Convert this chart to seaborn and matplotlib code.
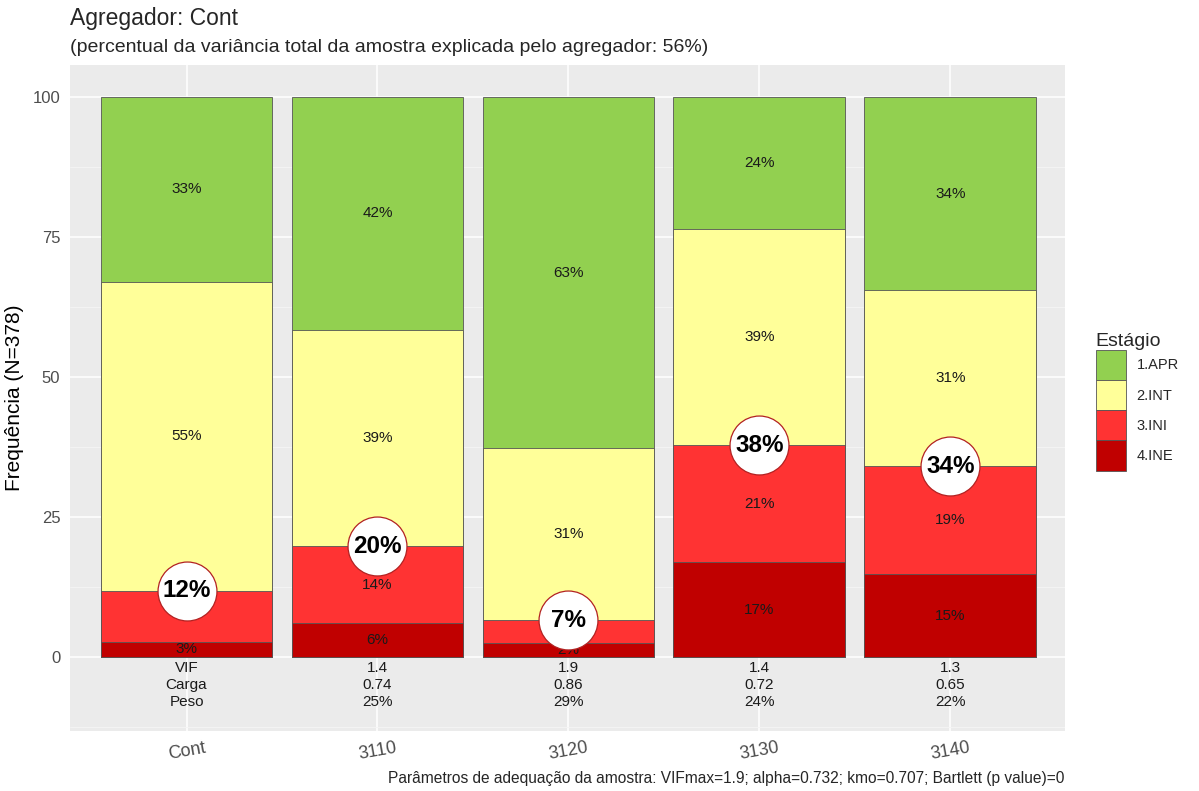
import numpy as np
import pandas as pd
import matplotlib.pyplot as plt
import seaborn as sns
from matplotlib.patches import Patch

# Data
categories = ['Cont', '3110', '3120', '3130', '3140']
stages = ['1.APR', '2.INT', '3.INI', '4.INE']
ine = [2.7, 6.1, 2.5, 16.9, 14.8]
ini = [9.1, 13.7, 4.1, 20.9, 19.3]
intr = [55.2, 38.6, 30.7, 38.6, 31.4]
apr = [33.0, 41.6, 62.7, 23.6, 34.5]
highlight = [12, 20, 7, 38, 34]
vif = ['VIF', '1.4', '1.9', '1.4', '1.3']
carga = ['Carga', '0.74', '0.86', '0.72', '0.65']
peso = ['Peso', '25%', '29%', '24%', '22%']

colors = {'1.APR': '#92D050', '2.INT': '#FFFF99', '3.INI': '#FF3333', '4.INE': '#C00000'}

df = pd.DataFrame({'cat': categories, '4.INE': ine, '3.INI': ini,
                   '2.INT': intr, '1.APR': apr})
# cumulative tops, from bottom (INE) to top (APR)
order_bottom_up = ['4.INE', '3.INI', '2.INT', '1.APR']
cum = df[order_bottom_up].cumsum(axis=1)

sns.set_theme(style='darkgrid')
plt.rcParams['font.family'] = ['Liberation Sans', 'DejaVu Sans']

fig = plt.figure(figsize=(11.99, 7.91), dpi=100)
ax = fig.add_axes([0.0584, 0.0759, 0.8298, 0.8419])
ax.set_facecolor('#EBEBEB')

# draw cumulative bars, tallest first so lower stages overlay
for st in reversed(order_bottom_up):
    sns.barplot(x=df['cat'], y=cum[st], order=categories, color=colors[st],
                width=0.9, edgecolor='#555555', linewidth=0.6, saturation=1,
                ax=ax, zorder=2)

# segment labels
for st in order_bottom_up:
    for i, c in enumerate(categories):
        top = cum.loc[i, st]
        val = df.loc[i, st]
        ax.text(i, top - val / 2, f'{val:.0f}%', ha='center', va='center',
                fontsize=11, color='#1A1A1A', zorder=3)

# highlighted INE+INI totals
ax.scatter(range(len(categories)), cum['3.INI'], s=1800, marker='o',
           facecolor='white', edgecolor='#B22222', linewidth=0.9, zorder=4)
for i, h in enumerate(highlight):
    ax.text(i, cum.loc[i, '3.INI'], f'{h}%', ha='center', va='center',
            fontsize=17.5, fontweight='bold', color='black', zorder=5)

# parameter rows below the bars
for row, yv in zip([vif, carga, peso], [-2.0, -5.0, -8.0]):
    for i, t in enumerate(row):
        ax.text(i, yv, t, ha='center', va='center', fontsize=11,
                color='#1A1A1A', zorder=3)

ax.set_xlim(-0.61, 4.6)
ax.set_ylim(-13.2, 105.7)
ax.set_yticks([0, 25, 50, 75, 100])
ax.set_yticks([-12.5, 12.5, 37.5, 62.5, 87.5], minor=True)
ax.grid(True, which='major', color='white', linewidth=1.1, zorder=0)
ax.grid(True, which='minor', axis='y', color='#F5F5F5', linewidth=0.6, zorder=0)
ax.set_axisbelow(True)
for s in ax.spines.values():
    s.set_visible(False)
ax.tick_params(axis='both', which='major', length=4, color='#333333',
               labelcolor='#4D4D4D', labelsize=12, pad=3)
ax.tick_params(axis='both', which='minor', length=0)
ax.tick_params(axis='x', labelsize=13, pad=2)
for lab in ax.get_xticklabels():
    lab.set_rotation(10)
ax.set_xlabel('')
ax.set_ylabel('Frequência (N=378)', fontsize=15, color='black', labelpad=6)

fig.text(0.0584, 0.977, 'Agregador: Cont', fontsize=16.5, ha='left', va='center')
fig.text(0.0584, 0.940, '(percentual da variância total da amostra explicada pelo agregador: 56%)',
         fontsize=14, ha='left', va='center')
fig.text(0.888, 0.016,
         'Parâmetros de adequação da amostra: VIFmax=1.9; alpha=0.732; kmo=0.707; Bartlett (p value)=0',
         fontsize=11.2, ha='right', va='center')

handles = [Patch(facecolor=colors[s], edgecolor='#555555', linewidth=0.6) for s in stages]
leg = fig.legend(handles, stages, title='Estágio', loc='center left',
                 bbox_to_anchor=(0.903, 0.492), frameon=False, fontsize=10.5,
                 title_fontsize=14, handlelength=2.1, handleheight=2.8,
                 handletextpad=0.7, labelspacing=0.0, alignment='left')

fig.savefig('out.png', dpi=100)
